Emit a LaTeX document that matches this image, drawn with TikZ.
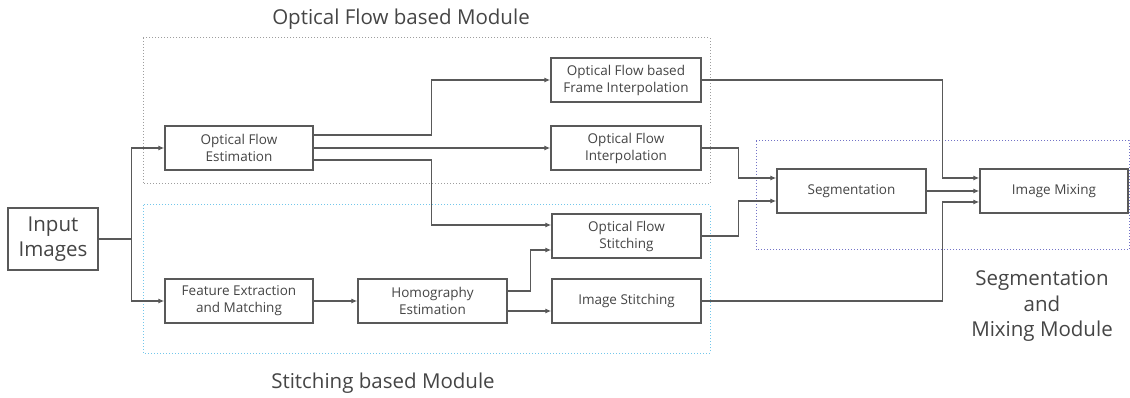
\documentclass[tikz,border=0pt]{standalone}
\usepackage{fontspec}
\setmainfont{Open Sans}
\usepackage{tikz}
\usetikzlibrary{calc}
\usetikzlibrary{arrows.meta,shapes}
\usepackage{xcolor}
\definecolor{boxline}{rgb}{0.35,0.35,0.35}
\definecolor{txt}{rgb}{0.27,0.27,0.27}
\definecolor{ofgray}{rgb}{0.62,0.62,0.62}
\definecolor{stblue}{rgb}{0.45,0.78,0.92}
\definecolor{segblue}{rgb}{0.45,0.45,0.78}
\tikzset{
  block/.style={draw=boxline,line width=1.3pt,fill=white,text=txt,align=center,
    minimum width=149pt,minimum height=44pt,inner sep=0pt,font=\fontsize{13.5}{17}\selectfont},
  link/.style={draw=boxline,line width=1.2pt},
  arr/.style={link,-{Latex[length=6pt,width=5pt]}},
  module/.style={line width=1pt,dotted},
  title/.style={text=txt,align=center,font=\fontsize{20.5}{25.5}\selectfont}
}
\begin{document}
\begin{tikzpicture}[x=1pt,y=-1pt]
        \useasboundingbox (0,0) rectangle (1130,398);
        \draw[module,ofgray] (143,38) rectangle (710,184);
        \draw[module,stblue] (143,205) rectangle (710,353);
        \draw[module,segblue] (756,141) rectangle (1129,250);
        \node[title] (tof) at (401,19) {Optical Flow based Module};
        \node[title] (tst) at (383,383) {Stitching based Module};
        \node[title] (tseg) at (1042,306) {Segmentation\\and\\Mixing Module};
        \node[block,minimum width=90pt,minimum height=62pt,font=\fontsize{20.5}{25}\selectfont] (inp) at (53,239) {Input\\Images};
        \node[block,minimum width=148pt] (ofe) at (239,148) {Optical Flow\\Estimation};
        \node[block,minimum width=148pt] (fem) at (239,301) {Feature Extraction\\and Matching};
        \node[block] (hom) at (432.5,301) {Homography\\Estimation};
        \node[block,minimum width=150pt] (offi) at (626,80) {Optical Flow based\\Frame Interpolation};
        \node[block,minimum width=150pt] (ofi) at (626,148) {Optical Flow\\Interpolation};
        \node[block] (ofs) at (626.5,236) {Optical Flow\\Stitching};
        \node[block] (ims) at (626.5,301) {Image Stitching};
        \node[block] (seg) at (851.5,191) {Segmentation};
        \node[block,minimum width=148pt] (mix) at (1054,191) {Image Mixing};
        \draw[link] (inp.east) -- ++(33,0) coordinate (jn);
        \draw[arr] (jn) |- (ofe.west);
        \draw[arr] (jn) |- (fem.west);
        \draw[arr] ([yshift=13pt]ofe.east) -- ++(118,0) |- (offi.west);
        \draw[arr] (ofe.east) -- (ofi.west);
        \draw[arr] ([yshift=-12pt]ofe.east) -- ++(118,0) |- ([yshift=11pt]ofs.west);
        \draw[arr] (fem.east) -- (hom.west);
        \draw[arr] ([yshift=10pt]hom.east) -- ++(23,0) |- ([yshift=-14pt]ofs.west);
        \draw[arr] ([yshift=-10pt]hom.east) -- ([yshift=-10pt]ims.west);
        \draw[arr] (ofi.east) -- ++(37,0) |- ([yshift=13pt]seg.west);
        \draw[arr] (ofs.east) -- ++(37,0) |- ([yshift=-10pt]seg.west);
        \draw[arr] (offi.east) -- ++(241,0) |- ([yshift=13pt]mix.west);
        \draw[arr] (seg.east) -- (mix.west);
        \draw[arr] (ims.east) -- ++(241,0) |- ([yshift=-11pt]mix.west);
\end{tikzpicture}
\end{document}
